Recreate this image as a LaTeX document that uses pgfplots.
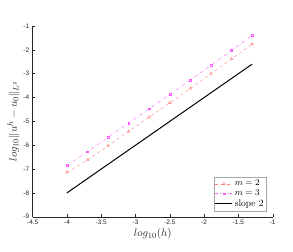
\documentclass[border=0pt]{standalone}
\usepackage{pgfplots}
\pgfplotsset{compat=1.18}
\usepackage{fontspec}
\newfontfamily\tickfont{Liberation Sans}
\definecolor{mtwo}{rgb}{1,0.5,0.5}
\definecolor{mthree}{rgb}{1,0.35,1}
\definecolor{axgray}{rgb}{0.15,0.15,0.15}
\begin{document}
\begin{tikzpicture}
\begin{axis}[
  scale only axis,
  width=240bp, height=190.7bp,
  at={(0,0)}, anchor=south west,
  xmin=-4.5, xmax=-1, ymin=-9, ymax=-1,
  axis x line=bottom, axis y line=left,
  axis line style={-, axgray, line width=0.4pt},
  tick align=inside, major tick length=2.5bp,
  tick style={axgray, line width=0.4pt},
  xtick={-4.5,-4,-3.5,-3,-2.5,-2,-1.5,-1},
  xticklabels={-4.5,-4,-3.5,-3,-2.5,-2,-1.5,-1},
  ytick={-9,-8,-7,-6,-5,-4,-3,-2,-1},
  yticklabels={-9,-8,-7,-6,-5,-4,-3,-2,-1},
  ticklabel style={font=\tickfont\fontsize{6.5}{7}\selectfont, text=axgray},
  xlabel={$log_{10}(h)$},
  ylabel={$log_{10}\|u^h-u_0\|_{L^2}$},
  label style={font=\fontsize{11}{12}\selectfont, text=axgray},
  xlabel style={yshift=3bp},
  ylabel style={yshift=-3bp},
  legend style={at={(rel axis cs:0.975,0.03)}, anchor=south east,
    draw=gray!70, font=\fontsize{9.5}{10}\selectfont, inner sep=1pt,
    row sep=-1.5pt, cells={anchor=west}},
  legend cell align=left,
]
\addplot[mtwo, dashed, line width=0.4pt, mark=triangle, mark size=1.6pt, mark options={solid}]
coordinates {(-4,-7.14) (-3.7,-6.62) (-3.4,-6.02) (-3.1,-5.42) (-2.8,-4.82) (-2.5,-4.22) (-2.2,-3.62) (-1.9,-3.00) (-1.6,-2.38) (-1.3,-1.76)};
\addlegendentry{$m=2$}
\addplot[mthree, dash dot, line width=0.4pt, mark=square, mark size=0.9pt, mark options={solid}]
coordinates {(-4,-6.85) (-3.7,-6.27) (-3.4,-5.67) (-3.1,-5.07) (-2.8,-4.47) (-2.5,-3.87) (-2.2,-3.27) (-1.9,-2.65) (-1.6,-2.03) (-1.3,-1.39)};
\addlegendentry{$m=3$}
\addplot[black, line width=1pt] coordinates {(-4,-8) (-1.3,-2.6)};
\addlegendentry{slope 2}
\end{axis}
\pgfresetboundingbox
\path[use as bounding box] (-32.7bp,-35.3bp) rectangle (260.3bp,216.7bp);
\end{tikzpicture}
\end{document}
